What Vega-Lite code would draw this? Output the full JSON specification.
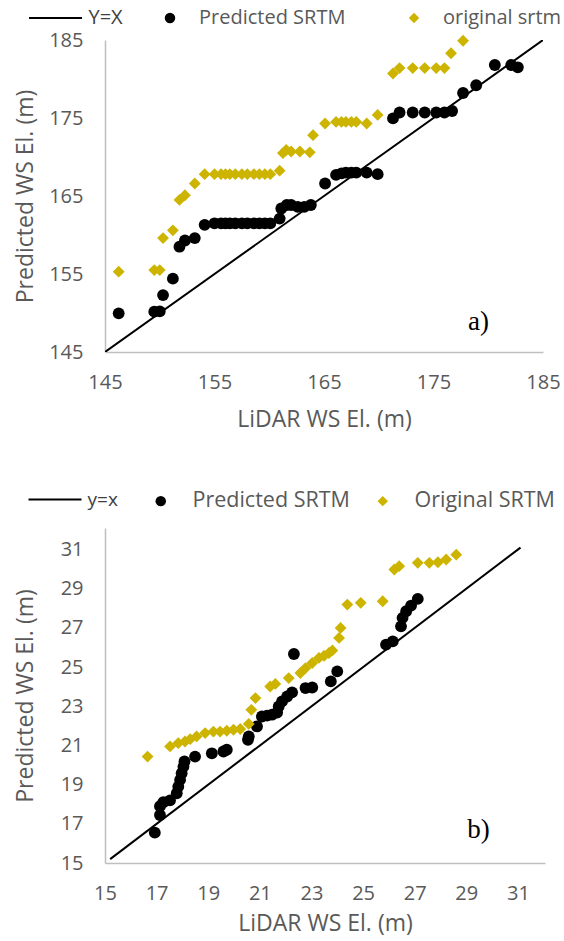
{
  "$schema": "https://vega.github.io/schema/vega-lite/v6.json",
  "padding": {"left": 14, "top": 8, "right": 0, "bottom": 0},
  "background": "white",
  "config": {
    "view": {"stroke": null},
    "font": "Open Sans",
    "axis": {
      "domainColor": "#BFBFBF", "domainWidth": 1.5, "ticks": false, "grid": false,
      "labelColor": "#595959", "titleColor": "#595959", "labelFlush": false,
      "labelFont": "Open Sans", "titleFont": "Open Sans",
      "labelFontSize": 20, "titleFontSize": 23, "titleFontWeight": "normal"
    },
    "legend": {"labelFont": "Open Sans", "labelFontSize": 20, "labelColor": "#595959", "labelLimit": 400}
  },
  "datasets": {
    "lineA": [{"x": 145, "y": 145, "s": "Y=X"}, {"x": 185, "y": 185, "s": "Y=X"}],
    "lineB": [{"x": 15.2, "y": 15.2, "s": "y=x"}, {"x": 31.1, "y": 31.1, "s": "y=x"}],
    "a": [
      {"x": 146.25, "y": 149.96, "series": "Predicted SRTM"},
      {"x": 149.5, "y": 150.17, "series": "Predicted SRTM"},
      {"x": 150.0, "y": 150.2, "series": "Predicted SRTM"},
      {"x": 150.3, "y": 152.3, "series": "Predicted SRTM"},
      {"x": 151.2, "y": 154.4, "series": "Predicted SRTM"},
      {"x": 151.8, "y": 158.5, "series": "Predicted SRTM"},
      {"x": 152.3, "y": 159.3, "series": "Predicted SRTM"},
      {"x": 153.2, "y": 159.6, "series": "Predicted SRTM"},
      {"x": 154.1, "y": 161.3, "series": "Predicted SRTM"},
      {"x": 155.0, "y": 161.5, "series": "Predicted SRTM"},
      {"x": 155.6, "y": 161.5, "series": "Predicted SRTM"},
      {"x": 156.0, "y": 161.5, "series": "Predicted SRTM"},
      {"x": 156.4, "y": 161.5, "series": "Predicted SRTM"},
      {"x": 156.9, "y": 161.5, "series": "Predicted SRTM"},
      {"x": 157.5, "y": 161.5, "series": "Predicted SRTM"},
      {"x": 158.0, "y": 161.5, "series": "Predicted SRTM"},
      {"x": 158.6, "y": 161.5, "series": "Predicted SRTM"},
      {"x": 159.1, "y": 161.5, "series": "Predicted SRTM"},
      {"x": 159.6, "y": 161.5, "series": "Predicted SRTM"},
      {"x": 160.1, "y": 161.5, "series": "Predicted SRTM"},
      {"x": 160.95, "y": 162.1, "series": "Predicted SRTM"},
      {"x": 161.1, "y": 163.4, "series": "Predicted SRTM"},
      {"x": 161.6, "y": 163.85, "series": "Predicted SRTM"},
      {"x": 162.0, "y": 163.85, "series": "Predicted SRTM"},
      {"x": 162.6, "y": 163.6, "series": "Predicted SRTM"},
      {"x": 163.2, "y": 163.6, "series": "Predicted SRTM"},
      {"x": 163.8, "y": 163.85, "series": "Predicted SRTM"},
      {"x": 165.1, "y": 166.6, "series": "Predicted SRTM"},
      {"x": 166.1, "y": 167.7, "series": "Predicted SRTM"},
      {"x": 166.6, "y": 167.9, "series": "Predicted SRTM"},
      {"x": 167.0, "y": 168.0, "series": "Predicted SRTM"},
      {"x": 167.5, "y": 168.0, "series": "Predicted SRTM"},
      {"x": 167.95, "y": 168.0, "series": "Predicted SRTM"},
      {"x": 168.9, "y": 168.0, "series": "Predicted SRTM"},
      {"x": 169.9, "y": 167.8, "series": "Predicted SRTM"},
      {"x": 171.3, "y": 174.95, "series": "Predicted SRTM"},
      {"x": 171.9, "y": 175.7, "series": "Predicted SRTM"},
      {"x": 173.1, "y": 175.7, "series": "Predicted SRTM"},
      {"x": 174.2, "y": 175.7, "series": "Predicted SRTM"},
      {"x": 175.25, "y": 175.7, "series": "Predicted SRTM"},
      {"x": 176.0, "y": 175.7, "series": "Predicted SRTM"},
      {"x": 176.7, "y": 175.9, "series": "Predicted SRTM"},
      {"x": 177.7, "y": 178.2, "series": "Predicted SRTM"},
      {"x": 178.9, "y": 179.2, "series": "Predicted SRTM"},
      {"x": 180.6, "y": 181.8, "series": "Predicted SRTM"},
      {"x": 182.1, "y": 181.8, "series": "Predicted SRTM"},
      {"x": 182.7, "y": 181.5, "series": "Predicted SRTM"},
      {"x": 146.25, "y": 155.3, "series": "original srtm"},
      {"x": 149.5, "y": 155.5, "series": "original srtm"},
      {"x": 150.0, "y": 155.5, "series": "original srtm"},
      {"x": 150.3, "y": 159.6, "series": "original srtm"},
      {"x": 151.2, "y": 160.6, "series": "original srtm"},
      {"x": 151.8, "y": 164.5, "series": "original srtm"},
      {"x": 152.3, "y": 165.1, "series": "original srtm"},
      {"x": 153.2, "y": 166.6, "series": "original srtm"},
      {"x": 154.1, "y": 167.8, "series": "original srtm"},
      {"x": 155.0, "y": 167.8, "series": "original srtm"},
      {"x": 155.6, "y": 167.8, "series": "original srtm"},
      {"x": 156.0, "y": 167.8, "series": "original srtm"},
      {"x": 156.4, "y": 167.8, "series": "original srtm"},
      {"x": 156.9, "y": 167.8, "series": "original srtm"},
      {"x": 157.5, "y": 167.8, "series": "original srtm"},
      {"x": 158.0, "y": 167.8, "series": "original srtm"},
      {"x": 158.6, "y": 167.8, "series": "original srtm"},
      {"x": 159.1, "y": 167.8, "series": "original srtm"},
      {"x": 159.6, "y": 167.8, "series": "original srtm"},
      {"x": 160.1, "y": 167.8, "series": "original srtm"},
      {"x": 160.95, "y": 168.25, "series": "original srtm"},
      {"x": 161.25, "y": 170.5, "series": "original srtm"},
      {"x": 161.55, "y": 170.9, "series": "original srtm"},
      {"x": 162.0, "y": 170.7, "series": "original srtm"},
      {"x": 162.8, "y": 170.7, "series": "original srtm"},
      {"x": 163.7, "y": 170.6, "series": "original srtm"},
      {"x": 164.0, "y": 172.8, "series": "original srtm"},
      {"x": 165.1, "y": 174.3, "series": "original srtm"},
      {"x": 166.1, "y": 174.5, "series": "original srtm"},
      {"x": 166.6, "y": 174.5, "series": "original srtm"},
      {"x": 167.0, "y": 174.5, "series": "original srtm"},
      {"x": 167.5, "y": 174.5, "series": "original srtm"},
      {"x": 167.95, "y": 174.5, "series": "original srtm"},
      {"x": 168.9, "y": 174.3, "series": "original srtm"},
      {"x": 169.9, "y": 175.4, "series": "original srtm"},
      {"x": 171.3, "y": 180.7, "series": "original srtm"},
      {"x": 171.9, "y": 181.4, "series": "original srtm"},
      {"x": 173.1, "y": 181.4, "series": "original srtm"},
      {"x": 174.2, "y": 181.4, "series": "original srtm"},
      {"x": 175.25, "y": 181.4, "series": "original srtm"},
      {"x": 176.0, "y": 181.4, "series": "original srtm"},
      {"x": 176.6, "y": 183.3, "series": "original srtm"},
      {"x": 177.7, "y": 184.9, "series": "original srtm"}
    ],
    "b": [
      {"x": 16.93, "y": 16.55, "series": "Predicted SRTM"},
      {"x": 17.13, "y": 17.45, "series": "Predicted SRTM"},
      {"x": 17.13, "y": 17.9, "series": "Predicted SRTM"},
      {"x": 17.26, "y": 18.1, "series": "Predicted SRTM"},
      {"x": 17.52, "y": 18.2, "series": "Predicted SRTM"},
      {"x": 17.78, "y": 18.56, "series": "Predicted SRTM"},
      {"x": 17.84, "y": 18.9, "series": "Predicted SRTM"},
      {"x": 17.91, "y": 19.24, "series": "Predicted SRTM"},
      {"x": 17.97, "y": 19.58, "series": "Predicted SRTM"},
      {"x": 18.04, "y": 19.92, "series": "Predicted SRTM"},
      {"x": 18.08, "y": 20.18, "series": "Predicted SRTM"},
      {"x": 18.49, "y": 20.43, "series": "Predicted SRTM"},
      {"x": 19.14, "y": 20.6, "series": "Predicted SRTM"},
      {"x": 19.59, "y": 20.69, "series": "Predicted SRTM"},
      {"x": 19.72, "y": 20.78, "series": "Predicted SRTM"},
      {"x": 20.54, "y": 21.29, "series": "Predicted SRTM"},
      {"x": 20.57, "y": 21.46, "series": "Predicted SRTM"},
      {"x": 20.89, "y": 21.97, "series": "Predicted SRTM"},
      {"x": 21.08, "y": 22.48, "series": "Predicted SRTM"},
      {"x": 21.28, "y": 22.52, "series": "Predicted SRTM"},
      {"x": 21.47, "y": 22.57, "series": "Predicted SRTM"},
      {"x": 21.67, "y": 22.68, "series": "Predicted SRTM"},
      {"x": 21.73, "y": 22.99, "series": "Predicted SRTM"},
      {"x": 21.86, "y": 23.25, "series": "Predicted SRTM"},
      {"x": 22.06, "y": 23.5, "series": "Predicted SRTM"},
      {"x": 22.25, "y": 23.71, "series": "Predicted SRTM"},
      {"x": 22.32, "y": 25.67, "series": "Predicted SRTM"},
      {"x": 22.77, "y": 23.93, "series": "Predicted SRTM"},
      {"x": 23.03, "y": 23.96, "series": "Predicted SRTM"},
      {"x": 23.75, "y": 24.27, "series": "Predicted SRTM"},
      {"x": 24.0, "y": 24.78, "series": "Predicted SRTM"},
      {"x": 25.89, "y": 26.15, "series": "Predicted SRTM"},
      {"x": 26.15, "y": 26.31, "series": "Predicted SRTM"},
      {"x": 26.47, "y": 27.08, "series": "Predicted SRTM"},
      {"x": 26.53, "y": 27.51, "series": "Predicted SRTM"},
      {"x": 26.67, "y": 27.85, "series": "Predicted SRTM"},
      {"x": 26.86, "y": 28.14, "series": "Predicted SRTM"},
      {"x": 27.12, "y": 28.48, "series": "Predicted SRTM"},
      {"x": 16.65, "y": 20.43, "series": "Original SRTM"},
      {"x": 17.52, "y": 20.95, "series": "Original SRTM"},
      {"x": 17.84, "y": 21.12, "series": "Original SRTM"},
      {"x": 18.1, "y": 21.2, "series": "Original SRTM"},
      {"x": 18.3, "y": 21.32, "series": "Original SRTM"},
      {"x": 18.55, "y": 21.46, "series": "Original SRTM"},
      {"x": 18.88, "y": 21.63, "series": "Original SRTM"},
      {"x": 19.2, "y": 21.71, "series": "Original SRTM"},
      {"x": 19.46, "y": 21.71, "series": "Original SRTM"},
      {"x": 19.72, "y": 21.75, "series": "Original SRTM"},
      {"x": 19.98, "y": 21.8, "series": "Original SRTM"},
      {"x": 20.24, "y": 21.84, "series": "Original SRTM"},
      {"x": 20.57, "y": 22.1, "series": "Original SRTM"},
      {"x": 20.67, "y": 22.82, "series": "Original SRTM"},
      {"x": 20.83, "y": 23.42, "series": "Original SRTM"},
      {"x": 21.4, "y": 24.01, "series": "Original SRTM"},
      {"x": 21.6, "y": 24.14, "series": "Original SRTM"},
      {"x": 22.12, "y": 24.44, "series": "Original SRTM"},
      {"x": 22.57, "y": 24.7, "series": "Original SRTM"},
      {"x": 22.77, "y": 24.95, "series": "Original SRTM"},
      {"x": 23.03, "y": 25.21, "series": "Original SRTM"},
      {"x": 23.29, "y": 25.47, "series": "Original SRTM"},
      {"x": 23.49, "y": 25.58, "series": "Original SRTM"},
      {"x": 23.68, "y": 25.72, "series": "Original SRTM"},
      {"x": 23.81, "y": 25.85, "series": "Original SRTM"},
      {"x": 24.07, "y": 26.49, "series": "Original SRTM"},
      {"x": 24.13, "y": 27.0, "series": "Original SRTM"},
      {"x": 24.39, "y": 28.19, "series": "Original SRTM"},
      {"x": 24.91, "y": 28.28, "series": "Original SRTM"},
      {"x": 25.76, "y": 28.36, "series": "Original SRTM"},
      {"x": 26.21, "y": 29.98, "series": "Original SRTM"},
      {"x": 26.4, "y": 30.15, "series": "Original SRTM"},
      {"x": 27.12, "y": 30.32, "series": "Original SRTM"},
      {"x": 27.57, "y": 30.32, "series": "Original SRTM"},
      {"x": 27.9, "y": 30.35, "series": "Original SRTM"},
      {"x": 28.22, "y": 30.49, "series": "Original SRTM"},
      {"x": 28.61, "y": 30.74, "series": "Original SRTM"}
    ]
  },
  "vconcat": [
    {
      "width": 438, "height": 312,
      "layer": [
        {
          "data": {"name": "lineA"},
          "mark": {"type": "line", "strokeWidth": 2, "clip": true},
          "encoding": {
            "x": {"field": "x", "type": "quantitative", "scale": {"domain": [145, 185], "nice": false}, "axis": {"values": [145, 155, 165, 175, 185], "title": "LiDAR WS El. (m)", "labelPadding": 20, "titlePadding": 16}},
            "y": {"field": "y", "type": "quantitative", "scale": {"domain": [145, 185], "nice": false}, "axis": {"values": [145, 155, 165, 175, 185], "title": "Predicted WS El. (m)", "labelPadding": 22, "titlePadding": 11}},
            "stroke": {"field": "s", "type": "nominal", "scale": {"domain": ["Y=X"], "range": ["black"]},
              "legend": {"orient": "none", "legendX": -59.5, "legendY": -32, "title": null, "symbolType": "M-5.3,0H5.3", "symbolSize": 100, "symbolStrokeWidth": 2, "labelOffset": 23, "padding": 0, "labelFontSize": 20, "labelColor": "#404040"}}
          }
        },
        {
          "data": {"name": "a"},
          "mark": {"type": "point", "filled": true, "opacity": 1, "size": 140},
          "encoding": {
            "x": {"field": "x", "type": "quantitative"},
            "y": {"field": "y", "type": "quantitative"},
            "shape": {"field": "series", "type": "nominal", "scale": {"domain": ["Predicted SRTM", "original srtm"], "range": ["circle", "diamond"]},
              "legend": {"orient": "none", "legendX": 55, "legendY": -32, "title": null, "direction": "horizontal", "symbolSize": 110, "labelOffset": 19, "columnPadding": 58, "padding": 0}},
            "fill": {"field": "series", "type": "nominal", "scale": {"domain": ["Predicted SRTM", "original srtm"], "range": ["black", "#CCB400"]},
              "legend": {"orient": "none", "legendX": 55, "legendY": -32, "title": null, "direction": "horizontal", "symbolSize": 110, "labelOffset": 19, "columnPadding": 58, "padding": 0}}
          }
        },
        {
          "data": {"values": [{}]},
          "mark": {"type": "text", "font": "Liberation Serif", "fontSize": 27, "color": "black"},
          "encoding": {"x": {"datum": 179.1}, "y": {"datum": 148.85}, "text": {"value": "a)"}}
        }
      ],
      "resolve": {"scale": {"stroke": "independent"}}
    },
    {
      "width": 440, "height": 335,
      "layer": [
        {
          "data": {"name": "lineB"},
          "mark": {"type": "line", "strokeWidth": 2, "clip": true},
          "encoding": {
            "x": {"field": "x", "type": "quantitative", "scale": {"domain": [15, 32.05], "nice": false}, "axis": {"values": [15, 17, 19, 21, 23, 25, 27, 29, 31], "title": "LiDAR WS El. (m)", "labelPadding": 20, "titlePadding": 9}},
            "y": {"field": "y", "type": "quantitative", "scale": {"domain": [15, 32.1], "nice": false}, "axis": {"values": [15, 17, 19, 21, 23, 25, 27, 29, 31], "title": "Predicted WS El. (m)", "labelPadding": 22, "titlePadding": 23}},
            "stroke": {"field": "s", "type": "nominal", "scale": {"domain": ["y=x"], "range": ["black"]},
              "legend": {"orient": "none", "legendX": -59.5, "legendY": -38, "title": null, "symbolType": "M-5.3,0H5.3", "symbolSize": 100, "symbolStrokeWidth": 2, "labelOffset": 23, "padding": 0, "labelFontSize": 19, "labelColor": "#404040"}}
          }
        },
        {
          "data": {"name": "b"},
          "mark": {"type": "point", "filled": true, "opacity": 1, "size": 140},
          "encoding": {
            "x": {"field": "x", "type": "quantitative"},
            "y": {"field": "y", "type": "quantitative"},
            "shape": {"field": "series", "type": "nominal", "scale": {"domain": ["Predicted SRTM", "Original SRTM"], "range": ["circle", "diamond"]},
              "legend": {"orient": "none", "legendX": 45, "legendY": -38, "title": null, "direction": "horizontal", "symbolSize": 110, "labelOffset": 21, "columnPadding": 22, "padding": 0, "labelFontSize": 21.5}},
            "fill": {"field": "series", "type": "nominal", "scale": {"domain": ["Predicted SRTM", "Original SRTM"], "range": ["black", "#CCB400"]},
              "legend": {"orient": "none", "legendX": 45, "legendY": -38, "title": null, "direction": "horizontal", "symbolSize": 110, "labelOffset": 21, "columnPadding": 22, "padding": 0, "labelFontSize": 21.5}}
          }
        },
        {
          "data": {"values": [{}]},
          "mark": {"type": "text", "font": "Liberation Serif", "fontSize": 27, "color": "black"},
          "encoding": {"x": {"datum": 29.47}, "y": {"datum": 16.69}, "text": {"value": "b)"}}
        }
      ]
    }
  ],
  "spacing": 59,
  "resolve": {"scale": {"x": "independent", "y": "independent", "stroke": "independent", "fill": "independent", "shape": "independent"}, "legend": {"stroke": "independent", "fill": "independent", "shape": "independent"}}
}
